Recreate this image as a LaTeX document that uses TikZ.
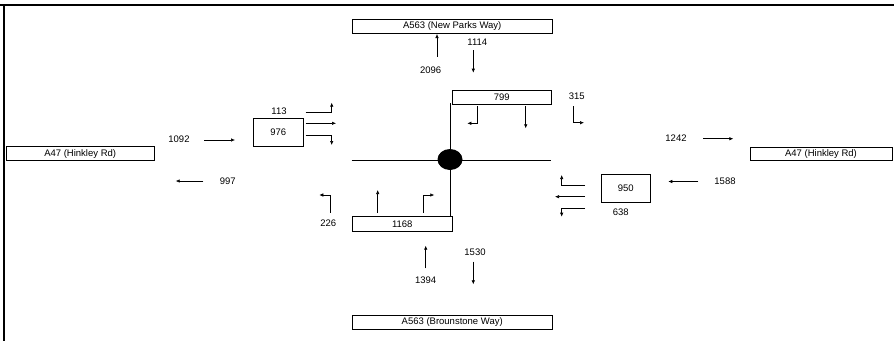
\documentclass[tikz,border=0pt]{standalone}
\usepackage{fontspec}
\setmainfont{Liberation Sans}
\usetikzlibrary{arrows.meta,shapes.geometric}
\begin{document}
\begin{tikzpicture}[x=1pt,y=-1pt,
  every node/.style={font=\fontsize{9.5}{11}\selectfont, inner sep=0pt},
  boxn/.style={draw, line width=0.8pt, minimum width=#1, minimum height=14pt},
  arr/.style={line width=0.6pt, -{Latex[length=4pt,width=3.5pt]}},
  road/.style={line width=0.9pt},
  frame/.style={line width=2.5pt}]
\useasboundingbox (0,0) rectangle (894,341);
% frame
\coordinate (fTL) at (0,5); \coordinate (fTR) at (894,5);
\coordinate (fLT) at (4,4); \coordinate (fLB) at (4,341);
\draw[frame] (fTL) -- (fTR);
\draw[frame] (fLT) -- (fLB);

% road name boxes
\node[boxn=199.5pt] (rTop) at (452.2,26.3) {A563 (New Parks Way)};
\node[boxn=200pt] (rBot) at (452.2,322) {A563 (Brounstone Way)};
\node[boxn=148.3pt] (rLeft) at (80.2,153.7) {A47 (Hinkley Rd)};
\node[boxn=142pt, minimum height=13pt] (rRight) at (821,153.8) {A47 (Hinkley Rd)};

% junction
\coordinate (jL) at (351.7,160); \coordinate (jR) at (550.7,160);
\coordinate (jT) at (450.5,103.3); \coordinate (jB) at (450.5,216.7);
\draw[road] (jL) -- (jR);
\draw[road] (jT) -- (jB);
\node[fill=black, ellipse, minimum width=25pt, minimum height=21pt] (jc) at (450,159.5) {};

% approach boxes
\node[boxn=50pt, minimum height=27.7pt] (b976) at (278.3,132.2) {976};
\node[boxn=49pt, minimum height=28.4pt] (b950) at (625.8,188.5) {950};
\node[boxn=98.7pt] (b799) at (501.7,97.3) {799};
\node[boxn=100pt, minimum height=14.6pt] (b1168) at (402.3,224) {1168};

% labels
\node (t113) at (279,111.7) {113};
\node (t1092) at (179,139.3) {1092};
\node (t997) at (227.7,181) {997};
\node (t1242) at (676,138.3) {1242};
\node (t1588) at (725,181) {1588};
\node (t638) at (620.7,212) {638};
\node (t315) at (576.7,96.7) {315};
\node (t226) at (328.3,223.7) {226};
\node (t1394) at (425.7,280.7) {1394};
\node (t1530) at (475,252.7) {1530};
\node (t1114) at (477.3,42.3) {1114};
\node (t2096) at (430.7,70) {2096};

% west approach arrows
\coordinate (w1a) at (305.7,112.3); \coordinate (w1b) at (331.7,112.3); \coordinate (w1c) at (331.7,102.7);
\coordinate (w2a) at (305.7,123.3); \coordinate (w2b) at (336,123.3);
\coordinate (w3a) at (305.7,135); \coordinate (w3b) at (331.7,135); \coordinate (w3c) at (331.7,145);
\draw[arr] (w1a) -- (w1b) -- (w1c);
\draw[arr] (w2a) -- (w2b);
\draw[arr] (w3a) -- (w3b) -- (w3c);

% east approach arrows
\coordinate (e1a) at (585,185); \coordinate (e1b) at (561.7,185); \coordinate (e1c) at (561.7,175);
\coordinate (e2a) at (585,196.7); \coordinate (e2b) at (555,196.7);
\coordinate (e3a) at (585,208.3); \coordinate (e3b) at (561.7,208.3); \coordinate (e3c) at (561.7,216.7);
\draw[arr] (e1a) -- (e1b) -- (e1c);
\draw[arr] (e2a) -- (e2b);
\draw[arr] (e3a) -- (e3b) -- (e3c);

% north approach arrows
\coordinate (n1a) at (477.3,106); \coordinate (n1b) at (477.3,123.3); \coordinate (n1c) at (467.3,123.3);
\coordinate (n2a) at (525.7,106); \coordinate (n2b) at (525.7,128.3);
\coordinate (n3a) at (573.3,106); \coordinate (n3b) at (573.3,122.7); \coordinate (n3c) at (584,122.7);
\draw[arr] (n1a) -- (n1b) -- (n1c);
\draw[arr] (n2a) -- (n2b);
\draw[arr] (n3a) -- (n3b) -- (n3c);

% south approach arrows
\coordinate (s1a) at (330,212.7); \coordinate (s1b) at (330,195); \coordinate (s1c) at (319.3,195);
\coordinate (s2a) at (377.7,212.7); \coordinate (s2b) at (377.7,190);
\coordinate (s3a) at (423.3,212.7); \coordinate (s3b) at (423.3,195); \coordinate (s3c) at (434.3,195);
\draw[arr] (s1a) -- (s1b) -- (s1c);
\draw[arr] (s2a) -- (s2b);
\draw[arr] (s3a) -- (s3b) -- (s3c);

% flow arrows
\coordinate (f1092a) at (204,140); \coordinate (f1092b) at (235,140);
\coordinate (f997a) at (203.3,181); \coordinate (f997b) at (175.7,181);
\coordinate (f1242a) at (703.3,138.7); \coordinate (f1242b) at (733.3,138.7);
\coordinate (f1588a) at (698.3,181.5); \coordinate (f1588b) at (668.3,181.5);
\coordinate (f1394a) at (425.7,268.3); \coordinate (f1394b) at (425.7,245.7);
\coordinate (f1530a) at (473.3,261.7); \coordinate (f1530b) at (473.3,284.3);
\coordinate (f1114a) at (473.3,50); \coordinate (f1114b) at (473.3,72.7);
\coordinate (f2096a) at (437,56.7); \coordinate (f2096b) at (437,34);
\draw[arr] (f1092a) -- (f1092b);
\draw[arr] (f997a) -- (f997b);
\draw[arr] (f1242a) -- (f1242b);
\draw[arr] (f1588a) -- (f1588b);
\draw[arr] (f1394a) -- (f1394b);
\draw[arr] (f1530a) -- (f1530b);
\draw[arr] (f1114a) -- (f1114b);
\draw[arr] (f2096a) -- (f2096b);
\end{tikzpicture}
\end{document}
